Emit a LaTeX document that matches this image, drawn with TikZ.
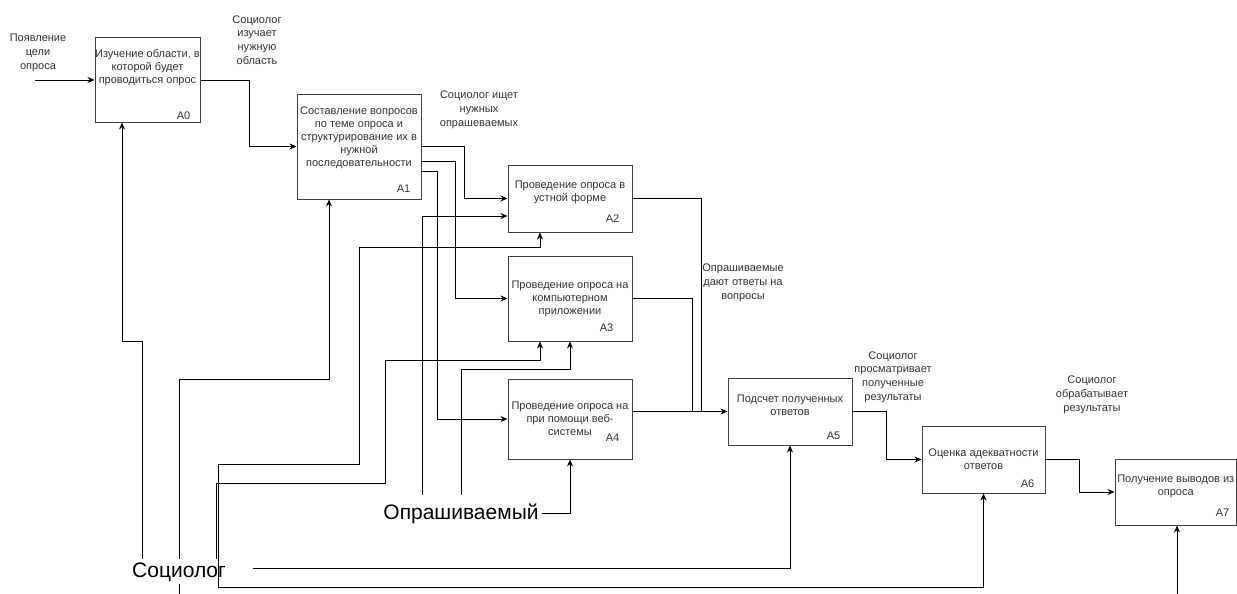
\documentclass[tikz,border=0pt]{standalone}
\usepackage{fontspec}
\setmainfont{Liberation Sans}
\usetikzlibrary{arrows.meta}

\begin{document}
\begin{tikzpicture}[x=1pt,y=-1pt,
  func/.style={draw=black!75, line width=1pt, inner sep=0pt},
  ftext/.style={align=center, text=black!80, font=\fontsize{11}{13}\selectfont, inner sep=0pt},
  fnum/.style={text=black!80, font=\fontsize{11}{13}\selectfont, inner sep=0pt},
  note/.style={align=center, text=black!80, font=\fontsize{11}{13.8}\selectfont, inner sep=0pt},
  big/.style={font=\fontsize{21}{25}\selectfont, inner sep=3pt, anchor=base},
  flow/.style={line width=0.9pt, -{Stealth[length=7pt,width=6pt]}},
  wire/.style={line width=0.9pt}]
  \useasboundingbox (0,0) rectangle (1237,594);

  % blocks
  \node[func, minimum width=105, minimum height=84] (a0) at (147.5,80) {};
  \node[func, minimum width=124, minimum height=105] (a1) at (359,146.5) {};
  \node[func, minimum width=124, minimum height=67] (a2) at (570,198.5) {};
  \node[func, minimum width=124, minimum height=85] (a3) at (570,298.5) {};
  \node[func, minimum width=124, minimum height=80] (a4) at (570,419) {};
  \node[func, minimum width=124, minimum height=67] (a5) at (790,411.5) {};
  \node[func, minimum width=123, minimum height=67] (a6) at (983.5,459.5) {};
  \node[func, minimum width=121.5, minimum height=66] (a7) at (1175.75,492) {};

  \node[ftext] (t0) at ([yshift=12.5pt]a0.center) {Изучение области, в\\которой будет\\проводиться опрос};
  \node[ftext] (t1) at ([yshift=8.5pt]a1.center) {Составление вопросов\\по теме опроса и\\структурирование их в\\нужной\\последовательности};
  \node[ftext] (t2) at ([yshift=6.5pt]a2.center) {Проведение опроса в\\устной форме};
  \node[ftext] (t3) at (a3.center) {Проведение опроса на\\компьютерном\\приложении};
  \node[ftext] (t4) at (a4.center) {Проведение опроса на\\при помощи веб-\\системы};
  \node[ftext] (t5) at ([yshift=6pt]a5.center) {Подсчет полученных\\ответов};
  \node[ftext] (t6) at (a6.center) {Оценка адекватности\\ответов};
  \node[ftext] (t7) at ([yshift=6pt]a7.center) {Получение выводов из\\опроса};

  \foreach \i/\dx/\dy in {0/-17/7,1/-18/11,2/-20/14,3/-26/14,4/-20/22,5/-19/10,6/-18/10,7/-14.5/13}
  \node[fnum] (n\i) at ([xshift=\dx pt,yshift=\dy pt]a\i.south east) {A\i};

  % inputs and outputs
  \coordinate (in0) at (35,80);
  \draw[flow] (in0) -- (a0.west);
  \draw[flow] (a0.east) -| ([xshift=-47pt]a1.west) -- (a1.west);
  \draw[flow] (a1.east) -| ([xshift=-43pt]a2.west) -- (a2.west);
  \draw[flow] ([yshift=-14.5pt]a1.east) -| ([xshift=-52pt]a3.west) -- (a3.west);
  \draw[flow] ([yshift=-24.5pt]a1.east) -| ([xshift=-70pt]a4.west) -- (a4.west);
  \draw[wire] (a2.east) -| ([xshift=-26pt]a5.west);
  \draw[wire] (a3.east) -| ([xshift=-35pt]a5.west);
  \draw[flow] (a4.east |- a5.west) -- (a5.west);
  \draw[flow] (a5.east) -| ([xshift=-35pt]a6.west) -- (a6.west);
  \draw[flow] (a6.east) -| ([xshift=-35pt]a7.west) -- (a7.west);

  % controls
  \coordinate (s1) at (179,594);
  \draw[flow] (s1) |- (329,379) -- ([xshift=-30pt]a1.south);
  \node[big, fill=white] (soc) at (179,577) {Социолог};
  \node[big, inner ysep=8pt] (opr) at (461,519) {Опрашиваемый};

  \draw[flow] (soc.north -| 142,0) |- (122,341) -- ([xshift=-25.5pt]a0.south);
  \coordinate (s2) at (218,587);
  \draw[flow] (s2) |- (359,464) |- (540,247) -- ([xshift=-30pt]a2.south);
  \draw[flow] (soc.north -| 216.5,0) |- (385,483) |- (540,360) -- ([xshift=-30pt]a3.south);
  \coordinate (s5) at (253,568);
  \draw[flow] (s5) -| (a5.south);
  \draw[flow] (s2) -| (a6.south);
  \coordinate (s7) at (1177,594);
  \draw[flow] (s7) -- (s7 |- a7.south);

  \draw[flow] (opr.north -| 422,0) |- ([yshift=-17.5pt]a2.west);
  \draw[flow] (opr.north) |- (570,369) -- (a3.south);
  \draw[flow] (opr.east) -| (a4.south);

  % labels
  \node[note] (lin) at (38,53) {Появление\\цели\\опроса};
  \node[note] (l01) at (257,40) {Социолог\\изучает\\нужную\\область};
  \node[note] (l12) at (479,110) {Социолог ищет\\нужных\\опрашеваемых};
  \node[note] (l25) at (743,283) {Опрашиваемые\\дают ответы на\\вопросы};
  \node[note] (l56) at (893,377) {Социолог\\просматривает\\полученные\\результаты};
  \node[note] (l67) at (1092,395) {Социолог\\обрабатывает\\результаты};
\end{tikzpicture}
\end{document}
